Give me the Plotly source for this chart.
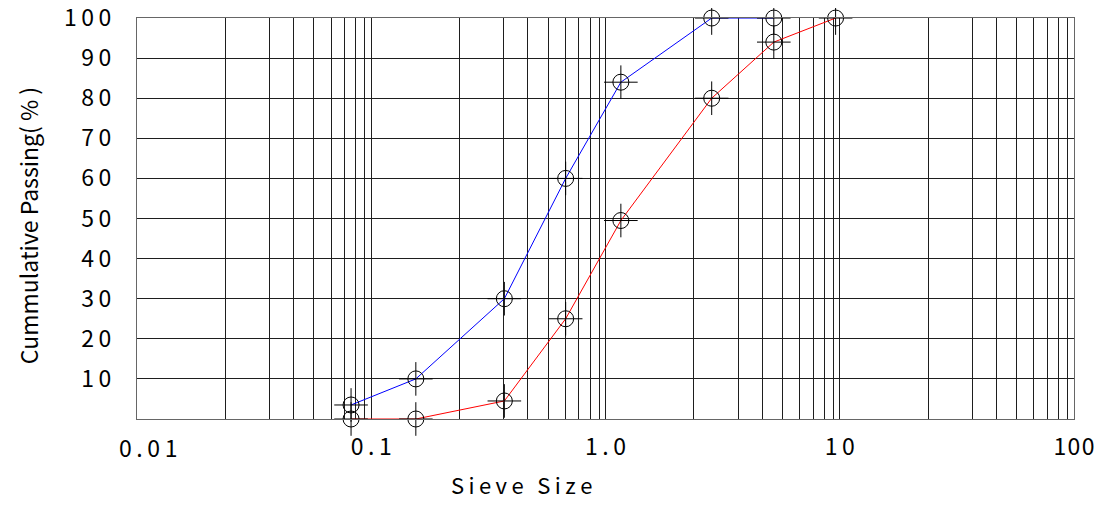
import plotly.graph_objects as go

# ---- data ----
sieve_size = [0.082, 0.155, 0.37, 0.676, 1.163, 2.84, 5.23, 9.6]
passing_blue = [3.5, 10, 30, 60, 84, 100, 100]
passing_red = [0, 0, 4.5, 25, 49.5, 80, 94, 100]

x_tick_vals = [0.1, 1, 10, 100]
x_tick_text = ["0.1", "1.0", "10", "100"]
y_tick_vals = [10, 20, 30, 40, 50, 60, 70, 80, 90, 100]

# minor grid-line positions inside each decade (fractions of a decade, as drawn)
minor_frac = [0.377, 0.566, 0.669, 0.755, 0.829, 0.886, 0.934, 0.973]
decades = [-2, -1, 0, 1]
minor_vals = [10 ** (d + f) for d in decades for f in minor_frac]

THIN = "\u2009"
HAIR = "\u200a"
def spaced(s, sep=THIN):
    return sep.join(list(s))

FONT = "Noto Sans CJK JP, Noto Sans, sans-serif"
GRID = "#1e1e1e"

fig = go.Figure()

for xs, ys, col in [(sieve_size[:len(passing_blue)], passing_blue, "#0000ff"),
                    (sieve_size, passing_red, "#ff0000")]:
    fig.add_trace(go.Scatter(
        x=xs, y=ys, mode="lines", line=dict(color=col, width=1),
        hoverinfo="skip", cliponaxis=False))

for xs, ys in [(sieve_size[:len(passing_blue)], passing_blue),
               (sieve_size, passing_red)]:
    fig.add_trace(go.Scatter(
        x=xs, y=ys, mode="markers", cliponaxis=False,
        marker=dict(symbol="circle-open", size=16, color="black",
                    line=dict(color="black", width=1))))
    fig.add_trace(go.Scatter(
        x=xs, y=ys, mode="markers", cliponaxis=False,
        marker=dict(symbol="cross-thin-open", size=24, color="black",
                    line=dict(color="black", width=1))))

x_labels = [spaced(t, HAIR if t == "100" else THIN) for t in x_tick_text]

# page body has an 8px margin: the figure is sized/offset to compensate
fig.update_layout(
    width=1088, height=489,
    margin=dict(l=129, r=22, t=10, b=78),
    paper_bgcolor="white", plot_bgcolor="white",
    showlegend=False,
    font=dict(family=FONT, size=23, color="black"),
    xaxis=dict(
        type="log", range=[-2, 2], automargin=False,
        tickvals=x_tick_vals, ticktext=x_labels,
        ticks="outside", ticklen=7, tickcolor="rgba(0,0,0,0)",
        ticklabeloverflow="allow",
        showgrid=True, gridcolor=GRID, gridwidth=1,
        minor=dict(tickvals=minor_vals, showgrid=True, gridcolor=GRID,
                   gridwidth=1, ticks=""),
        showline=True, mirror=True, linecolor="#666", linewidth=1,
        zeroline=False, tickfont=dict(family=FONT, size=23),
    ),
    yaxis=dict(
        range=[0, 100.01], tickvals=y_tick_vals, automargin=False,
        ticktext=[spaced(str(v)) for v in y_tick_vals],
        ticks="outside", ticklen=20, tickcolor="rgba(0,0,0,0)",
        ticklabeloverflow="allow",
        showgrid=True, gridcolor=GRID, gridwidth=1,
        showline=True, mirror=True, linecolor="#666", linewidth=1,
        zeroline=False, tickfont=dict(family=FONT, size=23),
    ),
    annotations=[
        dict(text=spaced("0.01"), x=-2, y=0, xref="x", yref="paper",
             xanchor="center", yanchor="top", xshift=11, yshift=-9,
             showarrow=False, font=dict(family=FONT, size=23)),
        dict(text=spaced("Sieve Size"), x=0.4106, y=-0.162, xref="paper",
             yref="paper", xanchor="center", yanchor="middle",
             showarrow=False, font=dict(family=FONT, size=22)),
        dict(text="Cummulative Passing( % )", x=-0.1163, y=0.481,
             xref="paper", yref="paper", xanchor="center", yanchor="middle",
             textangle=-90, showarrow=False, font=dict(family=FONT, size=23)),
    ],
)

fig.write_html("out.html")
